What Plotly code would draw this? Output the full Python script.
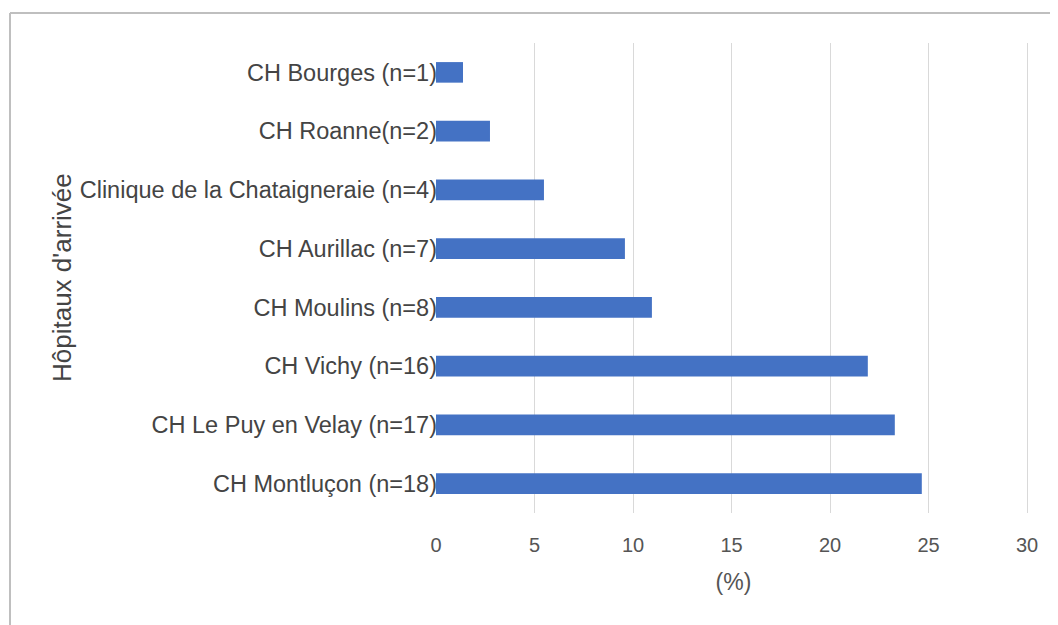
import plotly.graph_objects as go

categories = ["CH Montluçon (n=18)", "CH Le Puy en Velay (n=17)", "CH Vichy (n=16)",
              "CH Moulins (n=8)", "CH Aurillac (n=7)", "Clinique de la Chataigneraie (n=4)",
              "CH Roanne(n=2)", "CH Bourges (n=1)"]
counts = [18, 17, 16, 8, 7, 4, 2, 1]
total = sum(counts)
percents = [c / total * 100 for c in counts]
x_ticks = [0, 5, 10, 15, 20, 25, 30]

# page has an 8px body margin; figure sized to fill the 1058x625 window
W, H = 1050, 617
ml, mr, mt, mb = 428, 27, 35, 112
PW, PH = W - ml - mr, H - mt - mb

fig = go.Figure(go.Bar(
    x=percents, y=categories, orientation="h",
    marker=dict(color="#4472C4", line=dict(width=0)),
))

fig.update_layout(
    width=W, height=H,
    margin=dict(l=ml, r=mr, t=mt, b=mb),
    plot_bgcolor="white", paper_bgcolor="white",
    font=dict(family="Liberation Sans, Arial, sans-serif", color="#444444"),
    bargap=0.65,
    showlegend=False,
    xaxis=dict(range=[0, 30.2], tickvals=x_ticks, showgrid=True, gridcolor="#d9d9d9",
               gridwidth=1, zeroline=False, showline=False,
               ticks="outside", ticklen=14, tickcolor="rgba(0,0,0,0)",
               tickfont=dict(size=20, color="#555555"),
               title=dict(text="(%)", font=dict(size=23, color="#555555"), standoff=18)),
    yaxis=dict(categoryorder="array", categoryarray=categories, showgrid=False,
               zeroline=False, showline=False, ticks="",
               tickfont=dict(size=23.5, color="#444444"), ticklabelstandoff=-2),
)

fig.add_annotation(text="Hôpitaux d'arrivée", textangle=-90, x=(54 - ml) / PW,
                   xanchor="center", yanchor="middle",
                   y=0.5, xref="paper", yref="paper", showarrow=False,
                   font=dict(size=26, color="#444444"))

# chart border (top and left edges visible)
x0 = (2 - ml) / PW
x1 = (W + 5 - ml) / PW
y_top = 1 + (mt - 5) / PH
y_bot = -(mb + 10) / PH
fig.add_shape(type="line", xref="paper", yref="paper", x0=x0, x1=x1, y0=y_top, y1=y_top,
              line=dict(color="#bfbfbf", width=2))
fig.add_shape(type="line", xref="paper", yref="paper", x0=x0, x1=x0, y0=y_top, y1=y_bot,
              line=dict(color="#bfbfbf", width=2))

fig.write_html("out.html")
